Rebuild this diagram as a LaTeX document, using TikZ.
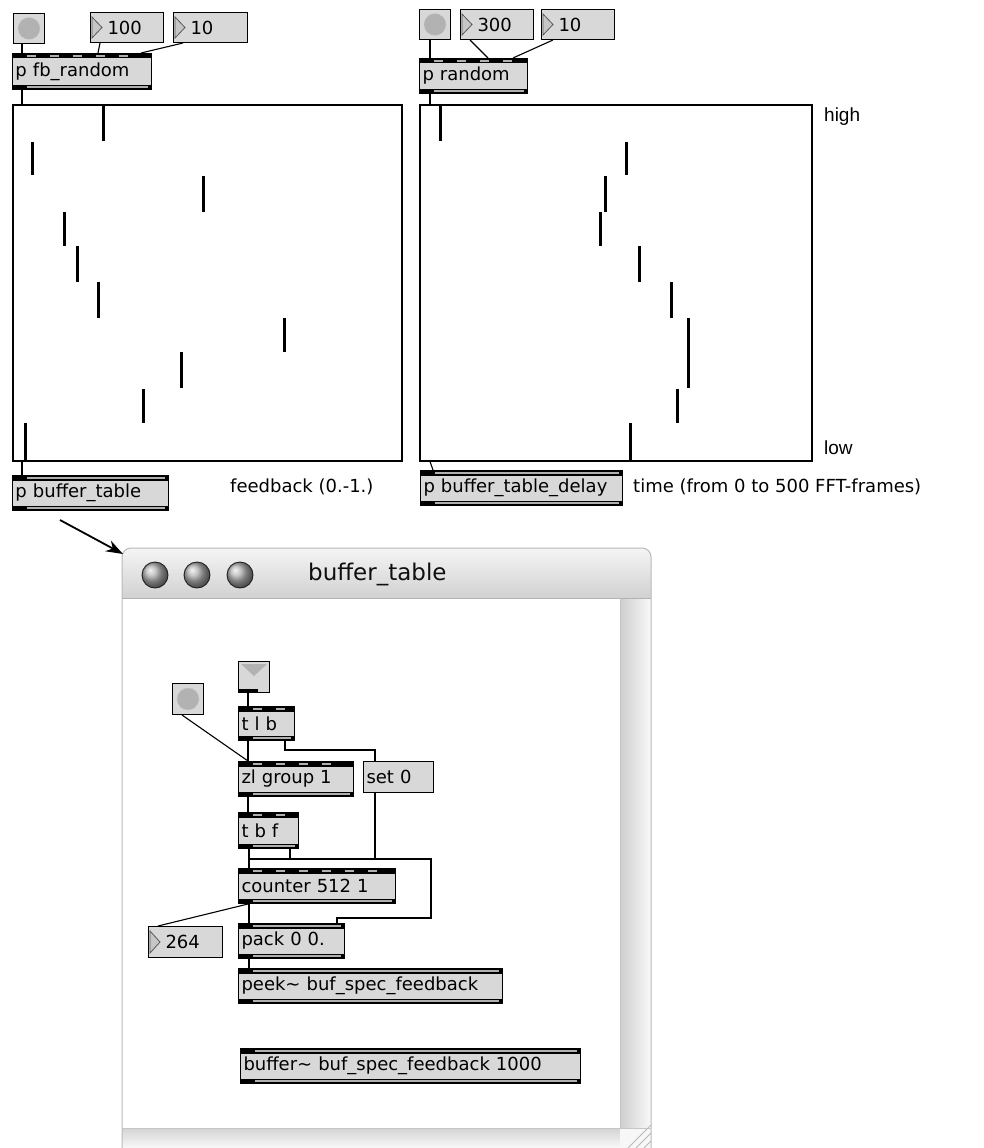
\documentclass[tikz,border=0pt]{standalone}
\usepackage{fontspec}
\setmainfont{DejaVu Sans}
\newfontfamily\helvfont{Liberation Sans}
\usetikzlibrary{arrows.meta}
\definecolor{boxgray}{HTML}{D8D8D8}
\definecolor{bandgray}{HTML}{B0B0B0}
\newcommand\maxfont{\fontsize{18}{20}\selectfont}
\newcommand\maxobj[7][objA]{%
  \pgfmathsetmacro\mw{#5-#3-6}\pgfmathsetmacro\mh{#6-#4}%
  \node[#1, text width=\mw pt, minimum height=\mh pt, anchor=north west] (#2) at (#3,#4) {#7};}
\newcommand\maxnum[6]{%
  \pgfmathsetmacro\mw{#4-#2-6}\pgfmathsetmacro\mh{#5-#3}%
  \node[numbox, text width=\mw pt, minimum height=\mh pt, anchor=north west] (#1) at (#2,#3) {\hspace*{14pt}#6};
  \filldraw[tri] ([xshift=2pt,yshift=-5pt]#1.north west) -- ([xshift=12pt]#1.west) -- ([xshift=2pt,yshift=5pt]#1.south west) -- cycle;}
\newcommand\maxbang[5]{%
  \pgfmathsetmacro\mw{#4-#2}\pgfmathsetmacro\mh{#5-#3}%
  \node[bangbox, minimum width=\mw pt, minimum height=\mh pt, anchor=north west] (#1) at (#2,#3) {};
  \filldraw[bangfill] (#1.center) circle (11pt);}
\newcommand\maxinlet[5]{%
  \pgfmathsetmacro\mw{#4-#2}\pgfmathsetmacro\mh{#5-#3}%
  \node[bangbox, minimum width=\mw pt, minimum height=\mh pt, anchor=north west] (#1) at (#2,#3) {};
  \fill[gray!60] ([xshift=3pt,yshift=-3pt]#1.north west) -- ([yshift=1pt]#1.center) -- ([xshift=-3pt,yshift=-3pt]#1.north east) -- cycle;
  \fill[black] ([yshift=4pt]#1.south west) rectangle ([xshift=-12pt]#1.south east);}
\begin{document}
\begin{tikzpicture}[x=1pt,y=-1pt,
  objbase/.style={draw=black, line width=1pt, fill=boxgray, inner xsep=3pt, inner ysep=0pt, font=\maxfont, align=left},
  objA/.style={objbase, path picture={
    \fill[black] (path picture bounding box.north west) rectangle ([yshift=-5pt]path picture bounding box.north east);
    \draw[bandgray, line width=1.3pt, dash pattern=on 9pt off 14pt] ([xshift=14pt,yshift=-2.5pt]path picture bounding box.north west) -- ([xshift=-10pt,yshift=-2.5pt]path picture bounding box.north east);
    \fill[black] ([yshift=5pt]path picture bounding box.south west) rectangle (path picture bounding box.south east);
    \draw[bandgray, line width=1.3pt] ([xshift=14pt,yshift=2.5pt]path picture bounding box.south west) -- ([xshift=-4pt,yshift=2.5pt]path picture bounding box.south east);}},
  objB/.style={objbase, path picture={
    \fill[black] (path picture bounding box.north west) rectangle ([yshift=-5pt]path picture bounding box.north east);
    \draw[bandgray, line width=1.3pt] ([xshift=14pt,yshift=-2.5pt]path picture bounding box.north west) -- ([xshift=-4pt,yshift=-2.5pt]path picture bounding box.north east);
    \fill[black] ([yshift=5pt]path picture bounding box.south west) rectangle (path picture bounding box.south east);
    \draw[bandgray, line width=1.3pt] ([xshift=14pt,yshift=2.5pt]path picture bounding box.south west) -- ([xshift=-4pt,yshift=2.5pt]path picture bounding box.south east);}},
  msg/.style={draw=black, line width=1pt, fill=boxgray, inner xsep=3pt, inner ysep=0pt, font=\maxfont, align=left},
  numbox/.style={draw=black, line width=1pt, fill=boxgray, inner xsep=3pt, inner ysep=0pt, font=\maxfont, align=left},
  tri/.style={draw=gray!70!black, fill=gray!45, line width=0.8pt},
  bangbox/.style={draw=black, line width=1pt, fill=boxgray, inner sep=0pt},
  bangfill/.style={fill=gray!60, draw=gray!45, line width=0.8pt, densely dotted},
  plotbox/.style={draw=black, line width=1.5pt, fill=white, inner sep=0pt},
  bar/.style={line width=3pt, black},
  cord/.style={line width=1.1pt, black},
  lbl/.style={font=\maxfont, inner sep=0pt},
  hl/.style={font=\helvfont\fontsize{19}{21}\selectfont, inner sep=0pt}]
\useasboundingbox (0,0) rectangle (984,1148);
\clip (0,0) rectangle (984,1148);
\fill[white] (0,0) rectangle (984,1148);

% ---------- left patch ----------
\maxbang{bangA}{13}{13}{44}{43}
\maxnum{numA}{90}{12}{163}{42}{100}
\maxnum{numB}{173}{12}{247}{42}{10}
\maxobj{fbr}{12}{53}{151}{89}{p fb\_random}
\node[plotbox, minimum width=389pt, minimum height=356pt, anchor=north west] (plotA) at (12,104) {};
\foreach \bx/\ya/\yb in {103/104/141, 32/142/175, 203/176/212, 64/212/246, 77/246/282, 98/282/318, 284/318/352, 181/352/388, 143/389/423, 25/423/460}
  \draw[bar] (\bx,\ya) -- (\bx,\yb);
\maxobj[objB]{pbt}{12}{475}{168}{510}{p buffer\_table}
\node[lbl, anchor=west] (fbl) at (230,487) {feedback (0.-1.)};
\draw[cord] ([xshift=9pt]bangA.south west) -- ([xshift=10pt]fbr.north west);
\draw[cord] ([xshift=10pt]numA.south west) -- ([xshift=86pt]fbr.north west);
\draw[cord] ([xshift=10pt]numB.south west) -- ([xshift=129pt]fbr.north west);
\draw[cord] ([xshift=10pt]fbr.south west) -- ([xshift=10pt]plotA.north west);
\draw[cord] ([xshift=10pt]plotA.south west) -- ([xshift=10pt]pbt.north west);

% ---------- right patch ----------
\maxbang{bangB}{419}{9}{450}{39}
\maxnum{numC}{460}{9}{533}{39}{300}
\maxnum{numD}{541}{9}{614}{39}{10}
\maxobj{prand}{419}{58}{527}{93}{p random}
\node[plotbox, minimum width=392pt, minimum height=356pt, anchor=north west] (plotB) at (419,104) {};
\foreach \bx/\ya/\yb in {440/104/141, 626/142/175, 605/176/212, 600/212/246, 639/246/282, 671/282/318, 688/318/388, 677/389/423, 630/423/460}
  \draw[bar] (\bx,\ya) -- (\bx,\yb);
\maxobj[objB]{pbtd}{420}{470}{622}{505}{p buffer\_table\_delay}
\node[lbl, anchor=west] (tml) at (633,487) {time (from 0 to 500 FFT-frames)};
\node[hl, anchor=west] (hi) at (824,117) {high};
\node[hl, anchor=west] (lo) at (824,448) {low};
\draw[cord] ([xshift=11pt]bangB.south west) -- ([xshift=11pt]prand.north west);
\draw[cord] ([xshift=10pt]numC.south west) -- ([xshift=69pt]prand.north west);
\draw[cord] ([xshift=12pt]numD.south west) -- ([xshift=94pt]prand.north west);
\draw[cord] ([xshift=11pt]prand.south west) -- ([xshift=11pt]plotB.north west);
\draw[cord] ([xshift=11pt]plotB.south west) -- ([xshift=13pt]pbtd.north west);

% ---------- window ----------
\begin{scope}
  \clip[rounded corners=9pt] (122,548) rectangle (651,1190);
  \fill[white] (122,548) rectangle (651,1190);
  \shade[top color=gray!8, bottom color=gray!36] (122,548) rectangle (651,598);
  \shade[left color=gray!38, right color=gray!5] (620,598) rectangle (651,1128);
  \shade[top color=gray!34, bottom color=gray!5] (122,1128) rectangle (620,1148);
  \fill[gray!6] (620,1128) rectangle (651,1148);
\end{scope}
\draw[gray!55, line width=1pt, rounded corners=9pt] (122,1190) -- (122,548) -- (651,548) -- (651,1190);
\draw[gray!60, line width=0.8pt] (122,598) -- (651,598);
\draw[gray!45, line width=0.8pt] (620,598) -- (620,1128);
\draw[gray!45, line width=0.8pt] (122,1128) -- (651,1128);
\foreach \gx in {628,636,644}
  \draw[gray!55, line width=0.8pt] (\gx,1148) -- (651,{1148-(651-\gx)});
\foreach \cx in {155,197,240} {
  \shade[ball color=gray!60] (\cx,575) circle (13pt);
  \draw[gray!25!black, line width=0.9pt] (\cx,575) circle (13pt);
}
\node[font=\fontsize{23}{26}\selectfont, text=gray!12!black, anchor=west, inner sep=0pt] (wtitle) at (308,574) {buffer\_table};

\coordinate (arrS) at (60,520);
\coordinate (arrE) at (123,554);
\draw[-{Stealth[length=17pt,width=12pt]}, line width=1.8pt] (arrS) -- (arrE);

% ---------- subpatch contents ----------
\maxinlet{inl}{238}{661}{269}{692}
\maxbang{bangC}{172}{683}{203}{714}
\maxobj{tlb}{238}{706}{294}{740}{t l b}
\maxobj{zl}{238}{761}{353}{796}{zl group 1}
\maxobj[msg]{set0}{363}{761}{433}{792}{set 0}
\maxobj{tbf}{238}{812}{298}{848}{t b f}
\maxobj{counter}{238}{868}{395}{903}{counter 512 1}
\maxnum{numE}{148}{926}{222}{957}{264}
\maxobj[objB]{pack}{238}{923}{344}{958}{pack 0 0.}
\maxobj[objB]{peek}{238}{968}{502}{1003}{peek\textasciitilde{} buf\_spec\_feedback}
\maxobj[objB]{buf}{240}{1048}{580}{1083}{buffer\textasciitilde{} buf\_spec\_feedback 1000}

\coordinate (c1) at (375,750);
\coordinate (c2) at (250,859);
\coordinate (c3) at (431,859);
\coordinate (c4) at (337,918);
\draw[cord] ([xshift=10pt]inl.south west) -- ([xshift=10pt]tlb.north west);
\draw[cord] ([xshift=10pt]bangC.south west) -- ([xshift=10pt]zl.north west);
\draw[cord] ([xshift=10pt]tlb.south west) -- ([xshift=10pt]zl.north west);
\draw[cord] ([xshift=47pt]tlb.south west) |- (c1) -- ([xshift=12pt]set0.north west);
\draw[cord] ([xshift=10pt]zl.south west) -- ([xshift=10pt]tbf.north west);
\draw[cord] ([xshift=11pt]tbf.south west) -- ([xshift=11pt]counter.north west);
\draw[cord] ([xshift=12pt]set0.south west) |- (c2);
\draw[cord] ([xshift=52pt]tbf.south west) |- (c3) |- (c4) -- ([xshift=99pt]pack.north west);
\draw[cord] ([xshift=11pt]counter.south west) -- ([xshift=11pt]pack.north west);
\draw[cord] ([xshift=10pt]counter.south west) -- ([xshift=10pt]numE.north west);
\draw[cord] ([xshift=11pt]pack.south west) -- ([xshift=11pt]peek.north west);
\end{tikzpicture}
\end{document}
